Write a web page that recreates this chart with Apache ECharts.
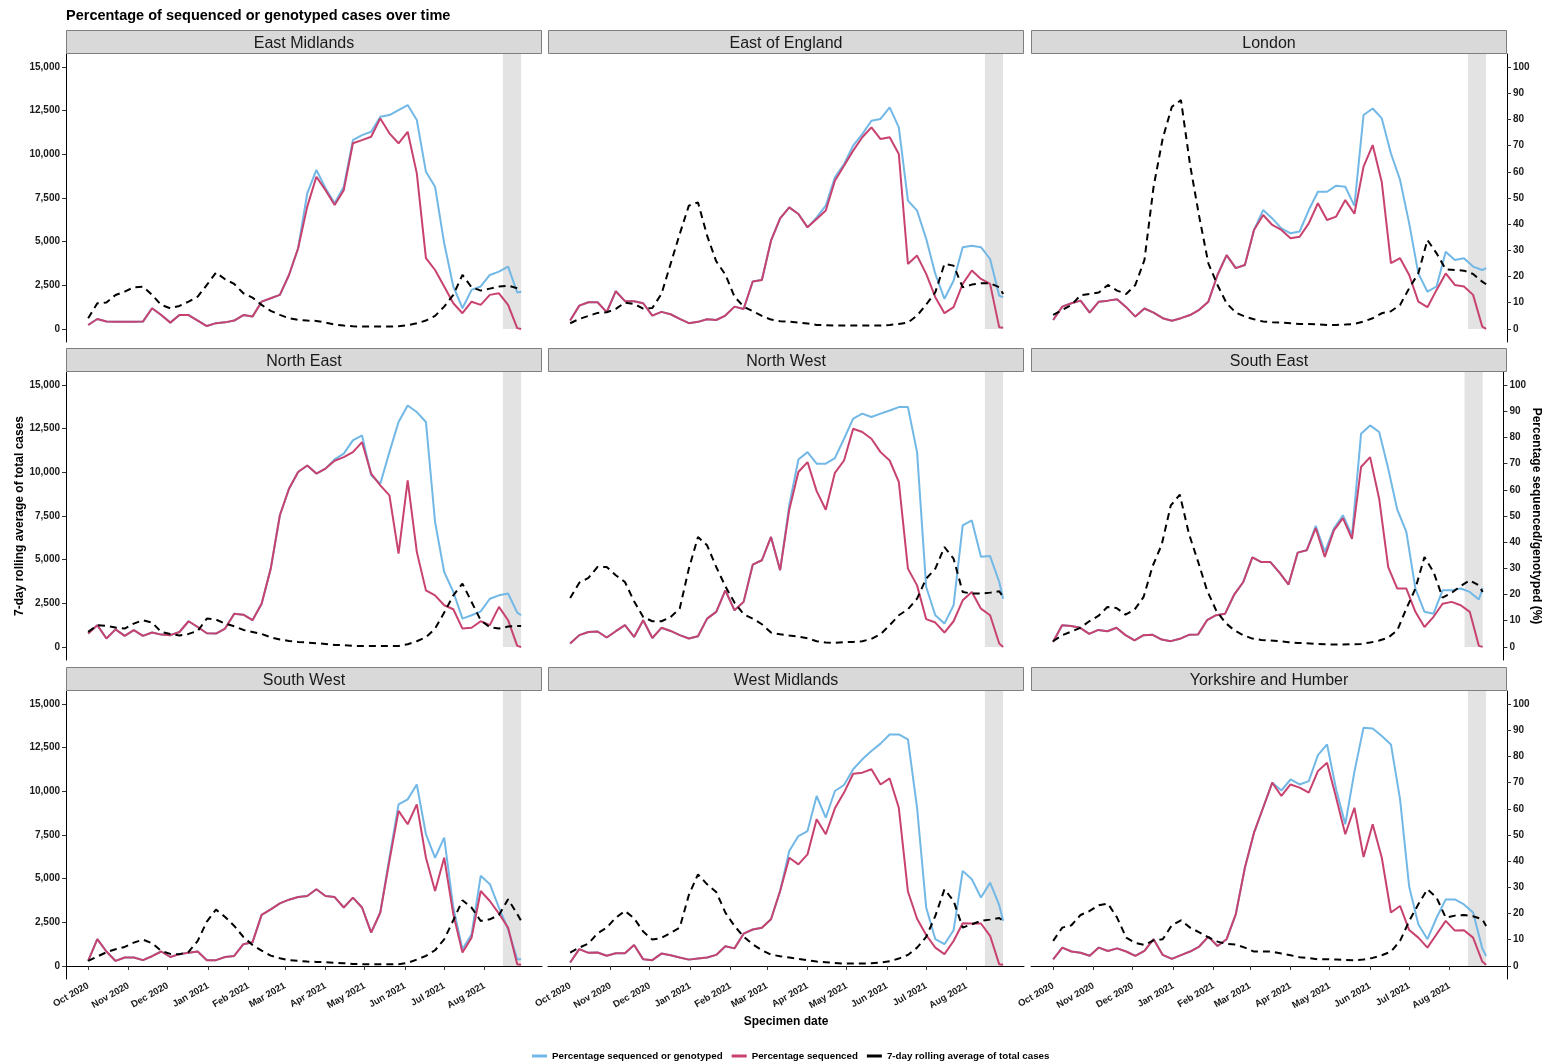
<!DOCTYPE html>
<html>
<head>
<meta charset="utf-8">
<title>Percentage of sequenced or genotyped cases over time</title>
<script src="https://cdn.jsdelivr.net/npm/echarts@6/dist/echarts.min.js"></script>
<style>
  html, body { margin: 0; padding: 0; background: #fff; }
  #chart { width: 1543px; height: 1062px; }
</style>
</head>
<body>
<div id="chart"></div>
<script>
// weekly readings (plus the last day)
var sampleDates = [
  '2020-10-01','2020-10-08','2020-10-15','2020-10-22','2020-10-29','2020-11-05','2020-11-12','2020-11-19','2020-11-26',
  '2020-12-03','2020-12-10','2020-12-17','2020-12-24','2020-12-31','2021-01-07','2021-01-14','2021-01-21','2021-01-28',
  '2021-02-04','2021-02-11','2021-02-18','2021-02-25','2021-03-04','2021-03-11','2021-03-18','2021-03-25','2021-04-01',
  '2021-04-08','2021-04-15','2021-04-22','2021-04-29','2021-05-06','2021-05-13','2021-05-20','2021-05-27','2021-06-03',
  '2021-06-10','2021-06-17','2021-06-24','2021-07-01','2021-07-08','2021-07-15','2021-07-22','2021-07-29','2021-08-05',
  '2021-08-12','2021-08-19','2021-08-26','2021-08-29'
];

var regions = ['East Midlands', 'East of England', 'London', 'North East', 'North West', 'South East',
  'South West', 'West Midlands', 'Yorkshire and Humber'];

var caseTicks = [0, 2500, 5000, 7500, 10000, 12500, 15000];
var pctTicks = [0, 10, 20, 30, 40, 50, 60, 70, 80, 90, 100];
var monthNames = ['Jan', 'Feb', 'Mar', 'Apr', 'May', 'Jun', 'Jul', 'Aug', 'Sep', 'Oct', 'Nov', 'Dec'];
var incompleteFrom = '2021-08-15';
var incompleteTo = '2021-08-29';

// East Midlands
var emSeqGeno = [1.5, 3.8, 2.8, 2.7, 2.7, 2.7, 2.8, 7.9, 5.3, 2.4, 5.3, 5.3, 3.2, 1.1, 2.2, 2.5, 3.2, 5.3, 4.7, 10.4, 11.7, 13, 20.6, 30.8,
  51.8, 60.7, 53.7, 48, 54.3, 72.1, 74, 75.3, 81, 81.7, 83.6, 85.5, 79.8, 60, 54.3, 32.7, 16.2, 7.9, 14.9, 16.2, 20.6, 21.9, 23.8, 13.9, 14.2];
var emSeq = [1.5, 3.8, 2.8, 2.7, 2.7, 2.7, 2.8, 7.9, 5.3, 2.4, 5.3, 5.3, 3.2, 1.1, 2.2, 2.5, 3.2, 5.3, 4.7, 10.4, 11.7, 13, 20.6, 30.8,
  46.7, 58.1, 53, 47.3, 53, 70.9, 72.1, 73.4, 80.4, 74.7, 70.9, 75.3, 59.4, 27, 22.5, 16.2, 9.8, 6, 10.4, 9.2, 13, 13.6, 9.2, 0.3, 0];
var emCases = [611, 1469, 1507, 1946, 2137, 2385, 2423, 1946, 1374, 1183, 1317, 1565, 1851, 2519, 3225, 2843, 2576, 2042, 1794, 1374,
  1030, 801, 611, 515, 477, 458, 363, 248, 191, 153, 134, 134, 134, 134, 153, 210, 324, 477, 744, 1278, 1946, 3091, 2385, 2194, 2309,
  2423, 2480, 2328, 2137];

// East of England
var eoeSeqGeno = [3.2, 8.9, 10.2, 10.2, 6.4, 14.4, 10.6, 10.6, 9.8, 5.1, 6.5, 5.6, 3.8, 2.2, 2.7, 3.7, 3.4, 5.1, 8.5, 7.6, 18.1, 18.7,
  33.7, 42.2, 46.4, 43.9, 38.8, 42.6, 47.1, 57.9, 63, 70, 74.4, 79.5, 80.2, 84.6, 77, 49, 45.2, 34.4, 21, 11.5, 18.4, 31.2, 31.8, 31.2,
  26.7, 12.7, 12.1];
var eoeSeq = [3.2, 8.9, 10.2, 10.2, 6.4, 14.4, 10.6, 10.6, 9.8, 5.1, 6.5, 5.6, 3.8, 2.2, 2.7, 3.7, 3.4, 5.1, 8.5, 7.6, 18.1, 18.7,
  33.7, 42.2, 46.4, 43.9, 38.8, 42, 45.2, 56.6, 62.3, 68.1, 73.2, 77, 72.5, 73.2, 66.8, 24.8, 28, 21, 12.1, 6, 8.3, 17.2, 22.3, 19.1,
  17.2, 0.6, 0.4];
var eoeCases = [324, 572, 744, 916, 954, 1145, 1507, 1431, 1164, 1202, 2003, 3721, 5438, 7060, 7250, 5342, 3873, 3110, 1851, 1278,
  1011, 744, 534, 439, 420, 363, 305, 229, 210, 191, 191, 191, 191, 191, 191, 229, 286, 363, 763, 1393, 2099, 3721, 3625, 2385, 2538,
  2614, 2614, 2385, 2003];

// London
var lonSeqGeno = [3.4, 8.5, 9.8, 10.8, 6.2, 10.4, 10.8, 11.3, 8.3, 4.7, 7.8, 6.2, 4.1, 3.1, 4.1, 5.3, 7.3, 10.4, 20.6, 28.2, 23.2, 24.4,
  37.8, 45.4, 42.2, 38.4, 36.5, 37.2, 45.4, 52.4, 52.4, 54.7, 54.3, 47, 81.7, 84.2, 80.4, 67, 56.9, 40.3, 21.2, 14.2, 16.2, 29.5, 26.3,
  27, 23.8, 22.5, 23.2];
var lonSeq = [3.4, 8.5, 9.8, 10.8, 6.2, 10.4, 10.8, 11.3, 8.3, 4.7, 7.8, 6.2, 4.1, 3.1, 4.1, 5.3, 7.3, 10.4, 20.6, 28.2, 23.2, 24.4,
  37.8, 43.5, 39.7, 37.8, 34.6, 35.2, 40.3, 48, 41.6, 42.9, 49.2, 44, 62, 70.2, 56, 25.1, 27, 20.6, 10.4, 8.3, 14.9, 21.2, 16.8, 16.2,
  13, 0.9, 0];
var lonCases = [801, 1088, 1374, 1927, 2003, 2080, 2519, 2194, 2003, 2519, 3950, 8147, 10914, 12726, 13108, 9387, 6430, 3759, 2519,
  1469, 935, 706, 553, 420, 382, 363, 324, 286, 286, 267, 229, 229, 248, 286, 420, 611, 897, 1011, 1374, 2328, 3186, 5094, 4331, 3415,
  3377, 3339, 3148, 2709, 2557];

// North East
var neSeqGeno = [5.1, 8.3, 3.2, 6.7, 4.2, 6.4, 4.2, 5.5, 4.7, 4.5, 5.7, 9.8, 7.6, 5.2, 5.1, 7, 12.7, 12.3, 10.2, 16.5, 29.9, 50.3, 60.4,
  66.8, 69.3, 66.2, 68.1, 71.6, 73.8, 78.9, 80.8, 65.6, 62.3, 74.4, 85.9, 92.2, 89.7, 85.9, 47.7, 28.6, 21, 10.8, 12.1, 13.6, 18.4,
  19.7, 20.4, 13.1, 12.1];
var neSeq = [5.1, 8.3, 3.2, 6.7, 4.2, 6.4, 4.2, 5.5, 4.7, 4.5, 5.7, 9.8, 7.6, 5.2, 5.1, 7, 12.7, 12.3, 10.2, 16.5, 29.9, 50.3, 60.4,
  66.8, 69.3, 66.2, 68.1, 71.1, 72.5, 74.4, 78.2, 66.2, 61.7, 57.9, 35.6, 63.6, 36.3, 21.6, 19.7, 15.9, 14.4, 7, 7.3, 9.8, 8.3, 15.3,
  10.2, 0.4, 0];
var neCases = [859, 1240, 1202, 1107, 1049, 1336, 1526, 1393, 859, 744, 649, 744, 916, 1622, 1565, 1336, 1183, 973, 859, 744, 553, 420,
  343, 286, 248, 210, 172, 114, 95, 57, 57, 57, 57, 57, 57, 153, 324, 553, 1049, 1965, 2957, 3625, 2576, 1526, 1126, 1049, 1164, 1202,
  1202];

// North West
var nwSeqGeno = [1.3, 4.5, 5.7, 5.9, 3.6, 6, 8.3, 3.8, 10.2, 3.4, 7.3, 6.1, 4.5, 3.2, 4.1, 10.8, 13.4, 21.6, 14, 17.2, 31.4, 33.1, 42,
  29.3, 54.1, 71.6, 74.4, 70, 70, 72.1, 79.5, 87.2, 89.1, 87.8, 89.1, 90.3, 91.6, 91.6, 74.4, 22.9, 12.1, 8.9, 15.9, 46.4, 48.3, 34.4,
  34.7, 24.8, 18.4];
var nwSeq = [1.3, 4.5, 5.7, 5.9, 3.6, 6, 8.3, 3.8, 10.2, 3.4, 7.3, 6.1, 4.5, 3.2, 4.1, 10.8, 13.4, 21.6, 14, 17.2, 31.4, 33.1, 42, 29.3,
  52.4, 66.8, 70.6, 59.5, 52.4, 66.5, 71.2, 83.3, 82.1, 79.5, 74.4, 71.2, 63, 29.9, 23.5, 10.6, 9.3, 5.5, 9.8, 17.8, 21, 14.6, 12.1,
  1.3, 0];
var nwCases = [2805, 3682, 3950, 4579, 4579, 4102, 3721, 2614, 1717, 1469, 1469, 1717, 2194, 4484, 6296, 5819, 4579, 3473, 2538, 1870,
  1622, 1297, 820, 725, 649, 591, 496, 324, 248, 229, 267, 286, 324, 458, 725, 1240, 1813, 2156, 2767, 3911, 4484, 5724, 5056, 3148,
  3053, 3053, 3110, 3186, 2862];

// South East
var seSeqGeno = [1.9, 8.3, 8, 7.3, 5, 6.5, 6, 7.3, 4.5, 2.5, 4.5, 4.6, 2.8, 2.2, 3.1, 4.6, 4.7, 10.2, 12.1, 12.7, 20, 24.8, 34.2, 32.4,
  32.4, 28.4, 23.8, 36, 36.9, 46.2, 36.3, 45.2, 50.3, 42.6, 81.4, 84.6, 82.1, 68.1, 52.4, 43.9, 22.3, 13.4, 12.7, 21.6, 21.6, 22.3, 21,
  18.1, 22.5];
var seSeq = [1.9, 8.3, 8, 7.3, 5, 6.5, 6, 7.3, 4.5, 2.5, 4.5, 4.6, 2.8, 2.2, 3.1, 4.6, 4.7, 10.2, 12.1, 12.7, 20, 24.8, 34.2, 32.4, 32.4,
  28.4, 23.8, 36, 36.9, 45.4, 34.4, 44.5, 49.2, 41.3, 68.7, 72.5, 56.6, 30.5, 22.3, 22.3, 13.4, 7.6, 11.5, 16.5, 17.2, 15.9, 13.4, 0.4, 0];
var seCases = [324, 668, 878, 1088, 1469, 1774, 2290, 2232, 1851, 2137, 2862, 4636, 5858, 8109, 8720, 6487, 4904, 3244, 2099, 1393, 954,
  668, 477, 401, 363, 324, 267, 229, 210, 172, 153, 134, 134, 153, 172, 248, 363, 534, 954, 2194, 3339, 5152, 4293, 2824, 3091, 3492,
  3816, 3530, 3148];

// South West
var swSeqGeno = [1.9, 10.2, 5.5, 1.9, 3.2, 3.2, 2.2, 3.7, 5.5, 3.4, 4.5, 5, 5.5, 2.2, 2.2, 3.4, 3.8, 8.3, 9, 19.5, 21.6, 23.9, 25.3,
  26.3, 26.7, 29.3, 26.7, 26.3, 22.3, 26.1, 22.3, 12.7, 20.4, 41.3, 61.7, 63.6, 69.3, 50.3, 41.3, 49, 22.3, 6.4, 12.1, 34.4, 31.2, 22.3,
  14, 2.5, 2.5];
var swSeq = [1.9, 10.2, 5.5, 1.9, 3.2, 3.2, 2.2, 3.7, 5.5, 3.4, 4.5, 5, 5.5, 2.2, 2.2, 3.4, 3.8, 8.3, 9, 19.5, 21.6, 23.9, 25.3, 26.3,
  26.7, 29.3, 26.7, 26.3, 22.3, 26.1, 22.3, 12.7, 20.4, 40.1, 59.2, 54.1, 61.7, 41.3, 28.6, 41.3, 19.7, 5.1, 10.8, 28.6, 24.8, 20, 14.6,
  0.6, 0.4];
var swCases = [286, 534, 782, 954, 1088, 1336, 1507, 1297, 859, 687, 668, 801, 1431, 2538, 3225, 2805, 2290, 1660, 1202, 878, 591, 439,
  324, 286, 248, 229, 210, 172, 153, 114, 95, 95, 95, 95, 95, 172, 363, 572, 897, 1526, 2614, 3759, 3339, 2576, 2671, 2919, 3816, 2976,
  2576];

// West Midlands
var wmSeqGeno = [1.3, 6.4, 5, 5.1, 3.9, 4.8, 4.8, 8, 2.5, 2.2, 4.7, 4.1, 3.2, 2.4, 2.8, 3.2, 4.2, 7.5, 6.7, 12.3, 13.9, 14.6, 17.8, 28.6,
  43.9, 49.6, 51.5, 64.9, 56.6, 66.8, 69.1, 75.1, 78.9, 82.1, 84.9, 88.4, 88.4, 86.5, 60.4, 22.3, 10.2, 8.3, 13.6, 36.3, 33.1, 26.1,
  31.8, 23.2, 17.2];
var wmSeq = [1.3, 6.4, 5, 5.1, 3.9, 4.8, 4.8, 8, 2.5, 2.2, 4.7, 4.1, 3.2, 2.4, 2.8, 3.2, 4.2, 7.5, 6.7, 12.3, 13.9, 14.6, 17.8, 28.6,
  41.3, 38.8, 42.6, 56, 50.3, 60.2, 66.2, 73.4, 73.8, 75.1, 69.3, 71.6, 60.4, 28.4, 18, 11.8, 7, 4.5, 9.5, 16.3, 16.2, 16.2, 11.5, 0.6,
  0.4];
var wmCases = [763, 1049, 1278, 1870, 2194, 2767, 3148, 2728, 1965, 1507, 1603, 1889, 2194, 4064, 5247, 4675, 4236, 3053, 2290, 1679,
  1240, 897, 649, 553, 477, 401, 324, 248, 210, 172, 134, 134, 134, 153, 191, 267, 420, 629, 1049, 1660, 2862, 4388, 3721, 2194, 2385,
  2576, 2652, 2748, 2576];

// Yorkshire and Humber
var yhSeqGeno = [2.5, 7, 5.5, 5, 3.9, 7, 5.7, 6.7, 5.5, 3.8, 5.7, 10.2, 4.2, 2.7, 4.1, 5.5, 7.4, 11.2, 7.6, 10.2, 19.7, 37.5, 50.9,
  60.4, 70, 67, 71.2, 69.3, 70.6, 80.5, 84.6, 67.4, 54.1, 74.2, 91, 90.7, 87.8, 84.6, 63.6, 30.2, 15.9, 10.2, 18.4, 25.4, 25.4, 23.5,
  20.4, 6.7, 3.8];
var yhSeq = [2.5, 7, 5.5, 5, 3.9, 7, 5.7, 6.7, 5.5, 3.8, 5.7, 10.2, 4.2, 2.7, 4.1, 5.5, 7.4, 11.2, 7.6, 10.2, 19.7, 37.5, 50.9, 60.4,
  70, 64.9, 69.3, 68.1, 66.2, 74.4, 77.6, 64.2, 50.3, 60.4, 41.6, 54.1, 41.3, 20.4, 22.9, 13.7, 10.8, 7, 12.1, 17.2, 13.5, 13.6, 10.8,
  1.7, 0.4];
var yhCases = [1431, 2194, 2328, 2919, 3148, 3473, 3568, 2767, 1622, 1317, 1202, 1469, 1526, 2328, 2614, 2194, 1927, 1641, 1393, 1259,
  1221, 1049, 820, 820, 820, 706, 611, 496, 458, 382, 382, 363, 343, 324, 363, 458, 611, 820, 1431, 2576, 3530, 4388, 3911, 2767, 2881,
  2919, 2843, 2671, 2290];

var seqGenoData = [emSeqGeno, eoeSeqGeno, lonSeqGeno, neSeqGeno, nwSeqGeno, seSeqGeno, swSeqGeno, wmSeqGeno, yhSeqGeno];
var seqData = [emSeq, eoeSeq, lonSeq, neSeq, nwSeq, seSeq, swSeq, wmSeq, yhSeq];
var casesData = [emCases, eoeCases, lonCases, neCases, nwCases, seCases, swCases, wmCases, yhCases];

var BLUE = '#72b8e6';
var PINK = '#c8426f';
var FONT = 'Liberation Sans, Arial, Helvetica, sans-serif';

// one category per day, padded either side like ggplot's default expansion
function buildDays(start, end) {
  var out = [];
  var d = new Date(start + 'T00:00:00Z');
  var stop = new Date(end + 'T00:00:00Z');
  while (d <= stop) {
    out.push(d.toISOString().slice(0, 10));
    d.setUTCDate(d.getUTCDate() + 1);
  }
  return out;
}
var days = buildDays('2020-09-14', '2021-09-14');
var dayIndex = {};
days.forEach(function (d, i) { dayIndex[d] = i; });

function isMonthTick(value) {
  return value.slice(8) === '01' && value >= '2020-10-01' && value <= '2021-08-01';
}
function monthLabel(value) {
  return monthNames[+value.slice(5, 7) - 1] + ' ' + value.slice(0, 4);
}
function thousands(v) {
  return String(v).replace(/\B(?=(\d{3})+(?!\d))/g, ',');
}
function toPoints(vals) {
  return sampleDates.map(function (d, k) { return [dayIndex[d], vals[k]]; });
}

var colLeft = [66, 548, 1031];
var rowTop = [54, 372, 691];
var panelW = 476, panelH = 288, stripH = 24;

var grids = [], xAxes = [], yAxes = [], series = [], graphics = [];

regions.forEach(function (name, i) {
  var r = Math.floor(i / 3), c = i % 3;
  grids.push({ left: colLeft[c], top: rowTop[r], width: panelW, height: panelH });

  graphics.push({
    type: 'rect', silent: true, z: 10,
    shape: { x: colLeft[c] + 0.5, y: rowTop[r] - stripH + 0.5, width: panelW - 1, height: stripH - 1 },
    style: { fill: '#d9d9d9', stroke: '#7f7f7f', lineWidth: 1 }
  });
  graphics.push({
    type: 'text', silent: true, z: 11,
    x: colLeft[c] + panelW / 2, y: rowTop[r] - stripH / 2 + 1.5,
    style: { text: name, fill: '#1a1a1a', font: '16px ' + FONT, align: 'center', verticalAlign: 'middle' }
  });

  var x = {
    gridIndex: i, type: 'category', data: days, boundaryGap: false,
    show: r === 2,
    axisLine: { show: true, lineStyle: { color: '#000', width: 1 } },
    axisTick: { show: true, length: 4, interval: function (idx, v) { return isMonthTick(v); },
      lineStyle: { color: '#333' } },
    axisLabel: { interval: function (idx, v) { return isMonthTick(v); }, formatter: monthLabel,
      rotate: 30, margin: 6, fontSize: 9.5, fontWeight: 'bold', color: '#1a1a1a', fontFamily: FONT },
    splitLine: { show: false }
  };
  if (i === 7) {
    x.name = 'Specimen date';
    x.nameLocation = 'middle';
    x.nameGap = 37;
    x.nameTextStyle = { fontSize: 12, fontWeight: 'bold', color: '#000', fontFamily: FONT };
  }
  xAxes.push(x);

  var left = {
    gridIndex: i, type: 'value', position: 'left', min: -750, max: 15750,
    show: c === 0,
    axisLine: { show: true, lineStyle: { color: '#000', width: 1 } },
    axisTick: { show: true, length: 4, customValues: caseTicks, lineStyle: { color: '#333' } },
    axisLabel: { customValues: caseTicks, formatter: thousands, margin: 6,
      fontSize: 10, fontWeight: 'bold', color: '#1a1a1a', fontFamily: FONT },
    splitLine: { show: false }
  };
  if (i === 3) {
    left.name = '7-day rolling average of total cases';
    left.nameLocation = 'middle';
    left.nameGap = 39;
    left.nameRotate = 90;
    left.nameTextStyle = { fontSize: 12, fontWeight: 'bold', color: '#000', fontFamily: FONT };
  }
  var right = {
    gridIndex: i, type: 'value', position: 'right', min: -5, max: 105,
    show: c === 2,
    axisLine: { show: true, lineStyle: { color: '#000', width: 1 } },
    axisTick: { show: true, length: 4, customValues: pctTicks, lineStyle: { color: '#333' } },
    axisLabel: { customValues: pctTicks, margin: 6,
      fontSize: 10, fontWeight: 'bold', color: '#1a1a1a', fontFamily: FONT },
    splitLine: { show: false }
  };
  if (i === 5) {
    right.name = 'Percentage sequenced/genotyped (%)';
    right.nameLocation = 'middle';
    right.nameGap = 26;
    right.nameRotate = -90;
    right.nameTextStyle = { fontSize: 12, fontWeight: 'bold', color: '#000', fontFamily: FONT };
  }
  yAxes.push(left, right);

  series.push({
    name: 'Percentage sequenced or genotyped', type: 'line',
    xAxisIndex: i, yAxisIndex: 2 * i + 1,
    data: toPoints(seqGenoData[i]), symbol: 'none',
    lineStyle: { color: BLUE, width: 2 }, itemStyle: { color: BLUE }, z: 3,
    markArea: {
      silent: true,
      itemStyle: { color: '#e3e3e3' },
      data: [[{ xAxis: incompleteFrom, yAxis: 0 }, { xAxis: incompleteTo, yAxis: 105 }]]
    }
  });
  series.push({
    name: 'Percentage sequenced', type: 'line',
    xAxisIndex: i, yAxisIndex: 2 * i + 1,
    data: toPoints(seqData[i]), symbol: 'none',
    lineStyle: { color: PINK, width: 2 }, itemStyle: { color: PINK }, z: 4
  });
  series.push({
    name: '7-day rolling average of total cases', type: 'line',
    xAxisIndex: i, yAxisIndex: 2 * i,
    data: toPoints(casesData[i]), symbol: 'none',
    lineStyle: { color: '#000', width: 2, type: [7, 5] }, itemStyle: { color: '#000' }, z: 5
  });
});

var chart = echarts.init(document.getElementById('chart'));
chart.setOption({
  animation: false,
  backgroundColor: '#fff',
  textStyle: { fontFamily: FONT },
  title: {
    text: 'Percentage of sequenced or genotyped cases over time',
    left: 61, top: 3,
    textStyle: { fontSize: 14.5, fontWeight: 'bold', color: '#000', fontFamily: FONT }
  },
  legend: {
    data: ['Percentage sequenced or genotyped', 'Percentage sequenced', '7-day rolling average of total cases'],
    left: 527, top: 1046,
    icon: 'rect', itemWidth: 15, itemHeight: 3, itemGap: 9,
    textStyle: { fontSize: 9.75, fontWeight: 'bold', color: '#000', fontFamily: FONT }
  },
  grid: grids,
  xAxis: xAxes,
  yAxis: yAxes,
  series: series,
  graphic: graphics
});
</script>
</body>
</html>
